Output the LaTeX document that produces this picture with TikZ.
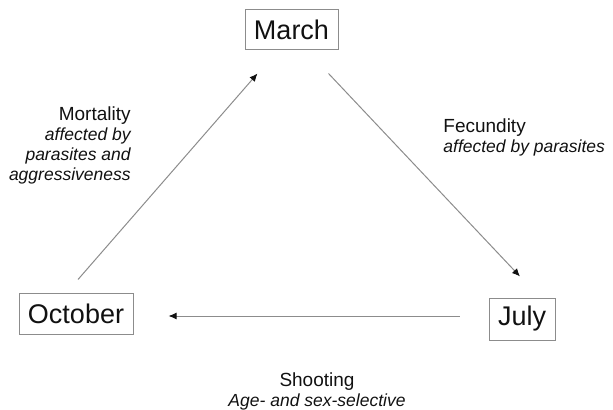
\documentclass[tikz,border=0pt]{standalone}
\usepackage{fontspec}
\setmainfont{Liberation Sans}
\usetikzlibrary{arrows.meta,calc}
\definecolor{cyclegray}{HTML}{8C8C8C}
\definecolor{cycleink}{HTML}{111111}
\newcommand{\effnote}[1]{{\fontsize{8.75}{10}\selectfont\itshape #1}}

\begin{document}
\begin{tikzpicture}[x=0.5pt, y=-0.5pt,
  stagebox/.style={draw=cyclegray, line width=0.5pt, inner sep=0pt, font=\fontsize{13.5}{16}\selectfont, text=cycleink},
  flow/.style={draw=cyclegray, line width=0.5pt, -{Latex[length=4pt,width=3.5pt,color=cycleink]}},
  lab/.style={font=\fontsize{9.5}{10}\selectfont, text=cycleink, inner sep=0pt}]
  \useasboundingbox (0,0) rectangle (613,410);
  % stages of the year
  \node[stagebox, minimum width=46.5pt, minimum height=20pt] (march) at (291.5,30) {March};
  \node[stagebox, minimum width=57pt, minimum height=20.5pt] (oct) at (76,313.5) {October};
  \node[stagebox, minimum width=33pt, minimum height=21pt] (july) at (522,319) {July};
  % transitions
  \draw[flow] ($(oct.north)+(2,-13)$) -- ($(march.south west)+(13,23)$);
  \draw[flow] ($(march.south east)+(-10,23)$) -- ($(july.north)+(-2,-21)$);
  \draw[flow] ($(july.west)+(-29,-3)$) -- ($(oct.east)+(35,2.5)$);
  % labels (base = last line)
  \node[lab, anchor=base east, align=right] (mort) at (131,181)
    {Mortality\\\effnote{affected by}\\\effnote{parasites and}\\\effnote{aggressiveness}};
  \node[lab, anchor=base west, align=left] (fec) at (443,153)
    {Fecundity\\\effnote{affected by parasites}};
  \node[lab, anchor=base, align=center] (shoot) at (317,406)
    {Shooting\\\effnote{Age- and sex-selective}};
\end{tikzpicture}
\end{document}
